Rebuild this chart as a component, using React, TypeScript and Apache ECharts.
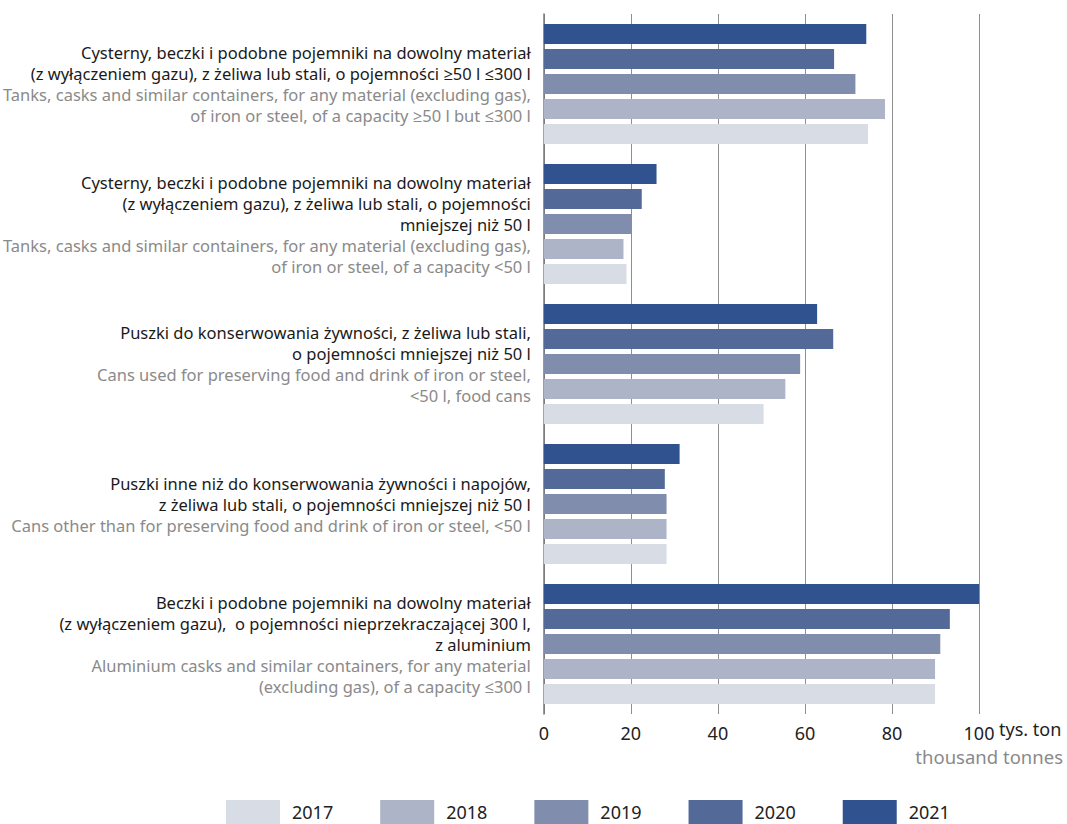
import React, { useEffect, useRef } from "react";
import * as echarts from "echarts";

const years = ["2017", "2018", "2019", "2020", "2021"];
const yearColors = ["#d8dce5", "#adb4c8", "#818dac", "#536998", "#30528e"];

const categoryIds = ["tanks50_300", "tanks_lt50", "food_cans", "other_cans", "aluminium"];

const labelsPl: string[][] = [
  ["Cysterny, beczki i podobne pojemniki na dowolny materiał", "(z wyłączeniem gazu), z żeliwa lub stali, o pojemności ≥50 l ≤300 l"],
  ["Cysterny, beczki i podobne pojemniki na dowolny materiał", "(z wyłączeniem gazu), z żeliwa lub stali, o pojemności", "mniejszej niż 50 l"],
  ["Puszki do konserwowania żywności, z żeliwa lub stali,", "o pojemności mniejszej niż 50 l"],
  ["Puszki inne niż do konserwowania żywności i napojów,", "z żeliwa lub stali, o pojemności mniejszej niż 50 l"],
  ["Beczki i podobne pojemniki na dowolny materiał", "(z wyłączeniem gazu),  o pojemności nieprzekraczającej 300 l,", "z aluminium"],
];

const labelsEn: string[][] = [
  ["Tanks, casks and similar containers, for any material (excluding gas),", "of iron or steel, of a capacity ≥50 l but ≤300 l"],
  ["Tanks, casks and similar containers, for any material (excluding gas),", "of iron or steel, of a capacity <50 l"],
  ["Cans used for preserving food and drink of iron or steel,", "<50 l, food cans"],
  ["Cans other than for preserving food and drink of iron or steel, <50 l"],
  ["Aluminium casks and similar containers, for any material", "(excluding gas), of a capacity ≤300 l"],
];

// values in thousand tonnes, per category
const values2017 = [74.5, 19.0, 50.5, 28.2, 89.9];
const values2018 = [78.4, 18.3, 55.5, 28.2, 89.9];
const values2019 = [71.6, 20.2, 58.9, 28.2, 91.1];
const values2020 = [66.7, 22.5, 66.5, 27.8, 93.3];
const values2021 = [74.1, 25.9, 62.8, 31.2, 100.0];

const xTicks = [0, 20, 40, 60, 80, 100];
const unitPl = "tys. ton";
const unitEn = "thousand tonnes";

const FONT = "'Noto Sans', 'Open Sans', sans-serif";

export default function App() {
  const ref = useRef<HTMLDivElement>(null);

  useEffect(() => {
    if (!ref.current) return;
    const chart = echarts.init(ref.current, null, { renderer: "svg" });
    const seriesValues = [values2017, values2018, values2019, values2020, values2021];
    // draw 2021 first so it sits at the top of each group
    const order = [4, 3, 2, 1, 0];
    chart.setOption({
      animation: false,
      textStyle: { fontFamily: FONT },
      grid: { left: 543, right: 88, top: 14, bottom: 110, containLabel: false },
      xAxis: {
        type: "value",
        min: xTicks[0],
        max: xTicks[xTicks.length - 1],
        interval: 20,
        axisLine: { show: false },
        axisTick: { show: false },
        splitLine: { show: true, lineStyle: { color: "#8e8e8e", width: 1 } },
        axisLabel: { fontSize: 18, color: "#222", margin: 10, fontFamily: FONT },
      },
      yAxis: {
        type: "category",
        inverse: true,
        data: categoryIds,
        axisLine: { show: true, lineStyle: { color: "#777", width: 1.5 } },
        axisTick: { show: false },
        axisLabel: {
          margin: 13,
          align: "right",
          fontFamily: FONT,
          formatter: (_v: string, i: number) => {
            const pl = labelsPl[i].map((l) => `{pl|${l}}`);
            const en = labelsEn[i].map((l) => `{en|${l}}`);
            return pl.concat(en).join("\n");
          },
          rich: {
            pl: { fontSize: 16.5, lineHeight: 21, color: "#1a1a1a", fontFamily: FONT, align: "right" },
            en: { fontSize: 16.5, lineHeight: 21, color: "#8a8a8a", fontFamily: FONT, align: "right" },
          },
        },
      },
      legend: {
        data: years,
        left: 226,
        top: 800,
        padding: 0,
        itemWidth: 54,
        itemHeight: 24,
        itemGap: 47,
        icon: "rect",
        textStyle: { fontSize: 18, color: "#222", fontFamily: FONT, padding: [0, 0, 0, 7] },
      },
      graphic: [
        {
          type: "text",
          left: 999,
          top: 720,
          style: { text: unitPl, fontSize: 18, fill: "#222", fontFamily: FONT },
        },
        {
          type: "text",
          right: 4,
          top: 747,
          style: { text: unitEn, fontSize: 18.5, fill: "#8a8a8a", fontFamily: FONT },
        },
      ],
      series: order.map((k) => ({
        name: years[k],
        type: "bar",
        data: seriesValues[k],
        barWidth: 20,
        barGap: "25%",
        itemStyle: { color: yearColors[k] },
      })),
    });
    return () => chart.dispose();
  }, []);

  return (
    <div
      ref={ref}
      style={{ position: "absolute", left: 0, top: 0, width: 1067, height: 824 }}
    />
  );
}
